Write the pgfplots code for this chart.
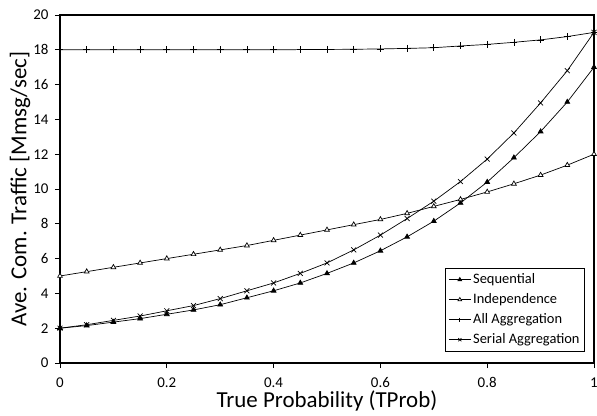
\documentclass[border=0pt]{standalone}
\usepackage{fontspec}
\setmainfont{Carlito}
\usepackage{pgfplots}
\pgfplotsset{compat=1.18}
\begin{document}
\begin{tikzpicture}
% fix the page to the reference's frame around the axis box
\useasboundingbox (-60bp,-53bp) rectangle (537bp,363bp);
\begin{axis}[
  scale only axis,
  width=534bp, height=348bp,
  xmin=0, xmax=1, ymin=0, ymax=20,
  xtick={0,0.2,...,1}, ytick={0,2,...,20},
  axis line style={line width=1.5bp},
  tick style={black, line width=0.8pt},
  tick align=outside,
  major tick length=5bp,
  xtick pos=bottom, ytick pos=left,
  /pgf/number format/assume math mode=true,
  ticklabel style={font=\fontsize{15}{17}\selectfont},
  xticklabel style={yshift=-6bp},
  yticklabel style={xshift=-3bp},
  label style={font=\fontsize{23}{25}\selectfont},
  xlabel={True Probability (TProb)},
  ylabel={Ave. Com. Traffic [Mmsg/sec]},
  xlabel style={at={(axis description cs:0.5,-0.129)}, anchor=base},
  ylabel style={at={(axis description cs:-0.075,0.5)}, anchor=center, rotate=0},
  legend style={at={(0.983,0.032)}, anchor=south east, draw=black,
    line width=0.8pt,
    font=\fontsize{14.5}{16}\selectfont, row sep=4.5bp, inner xsep=3bp, inner ysep=4bp},
  legend cell align=left,
  legend image code/.code={
    \draw[mark repeat=2, mark phase=2, mark size=2.2pt, #1]
      plot coordinates {(0bp,0bp) (11bp,0bp) (22bp,0bp)};},
  every axis plot/.append style={black, line width=0.7pt, mark size=2.8pt},
]
\addplot[mark=triangle*, mark options={fill=black}] coordinates {
(0,2) (0.05,2.15) (0.1,2.35) (0.15,2.55) (0.2,2.8) (0.25,3.05) (0.3,3.35)
(0.35,3.75) (0.4,4.15) (0.45,4.6) (0.5,5.15) (0.55,5.75) (0.6,6.45)
(0.65,7.25) (0.7,8.15) (0.75,9.2) (0.8,10.4) (0.85,11.8) (0.9,13.3)
(0.95,15.0) (1,17)};
\addlegendentry{Sequential}
\addplot[mark=triangle*, mark options={fill=white}] coordinates {
(0,5) (0.05,5.25) (0.1,5.5) (0.15,5.75) (0.2,6.0) (0.25,6.25) (0.3,6.5)
(0.35,6.75) (0.4,7.05) (0.45,7.35) (0.5,7.65) (0.55,7.95) (0.6,8.25)
(0.65,8.6) (0.7,9.0) (0.75,9.4) (0.8,9.83) (0.85,10.3) (0.9,10.8)
(0.95,11.37) (1,12)};
\addlegendentry{Independence}
\addplot[mark=+, mark size=3.5pt] coordinates {
(0,18) (0.05,18) (0.1,18) (0.15,18) (0.2,18) (0.25,18) (0.3,18)
(0.35,18) (0.4,18) (0.45,18.01) (0.5,18.02) (0.55,18.03) (0.6,18.05)
(0.65,18.08) (0.7,18.12) (0.75,18.22) (0.8,18.31) (0.85,18.43) (0.9,18.57)
(0.95,18.76) (1,19)};
\addlegendentry{All Aggregation}
\addplot[mark=x, mark size=3.5pt] coordinates {
(0,2) (0.05,2.2) (0.1,2.45) (0.15,2.7) (0.2,3.0) (0.25,3.3) (0.3,3.7)
(0.35,4.15) (0.4,4.6) (0.45,5.15) (0.5,5.75) (0.55,6.5) (0.6,7.35)
(0.65,8.3) (0.7,9.3) (0.75,10.43) (0.8,11.72) (0.85,13.22) (0.9,14.95)
(0.95,16.8) (1,19)};
\addlegendentry{Serial Aggregation}
\end{axis}
\end{tikzpicture}
\end{document}
